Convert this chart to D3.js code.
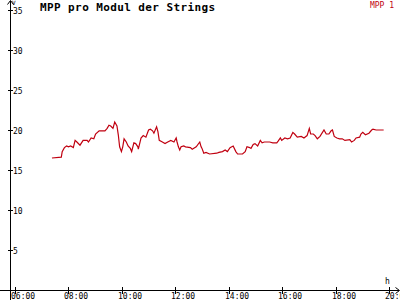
<!DOCTYPE html>
<html>
<head>
<meta charset="utf-8">
<script src="https://cdn.jsdelivr.net/npm/d3@7"></script>
<style>
  body { margin: 0; background: #fff; }
  svg { display: block; font-family: "DejaVu Sans Mono", monospace; }
</style>
</head>
<body>
<div id="chart"></div>
<script>
var times = ["07:23","07:44","07:46","07:51","07:56","08:00","08:05","08:11","08:15","08:19",
  "08:26","08:33","08:42","08:45","08:51","08:57","09:01","09:09","09:22","09:27",
  "09:31","09:35","09:40","09:44","09:49","09:52","09:55","09:59","10:02","10:05",
  "10:10","10:14","10:19","10:22","10:27","10:31","10:36","10:37","10:43","10:48",
  "10:54","11:00","11:04","11:09","11:12","11:18","11:21","11:24","11:31","11:37",
  "11:43","11:50","11:57","12:02","12:04","12:07","12:10","12:13","12:19","12:23",
  "12:34","12:38","12:47","12:55","12:58","13:00","13:04","13:09","13:17","13:33",
  "13:38","13:46","13:52","13:57","14:03","14:10","14:16","14:20","14:31","14:37",
  "14:41","14:47","14:50","14:55","14:59","15:05","15:11","15:15","15:20","15:32",
  "15:39","15:48","15:51","15:56","15:59","16:06","16:12","16:18","16:24","16:28",
  "16:34","16:43","16:49","16:56","17:01","17:04","17:10","17:14","17:19","17:25",
  "17:34","17:39","17:45","17:50","17:53","17:57","18:03","18:09","18:15","18:21",
  "18:32","18:36","18:42","18:46","18:54","18:57","19:01","19:07","19:15","19:21",
  "19:24","19:31","19:48"];
var values = [16.5,16.6,17.3,17.8,18.0,17.9,18.0,17.8,18.7,18.5,
  18.1,18.7,18.7,18.5,19.0,18.9,19.5,19.9,19.9,20.2,
  20.6,20.5,20.2,21.0,20.5,19.4,17.9,17.3,17.9,18.9,
  18.5,18.0,17.7,17.3,18.4,18.3,17.9,17.6,19.0,19.3,
  19.1,20.0,20.1,19.9,19.6,20.4,19.8,18.7,18.5,18.3,
  18.5,18.7,18.5,19.0,18.5,17.9,17.5,17.9,18.0,17.9,
  17.8,17.6,17.9,18.5,17.9,17.7,17.1,17.2,17.0,17.1,
  17.2,17.3,17.5,17.3,17.8,18.0,17.3,17.0,17.0,17.3,
  17.9,17.8,17.7,18.2,18.3,18.0,18.7,18.4,18.5,18.5,
  18.4,18.4,18.6,19.0,18.7,19.0,18.9,19.0,19.7,19.5,
  19.1,19.2,19.0,19.3,20.2,19.5,19.5,19.3,18.9,19.2,
  20.0,19.5,19.5,19.9,20.0,19.2,19.0,18.9,18.9,18.7,
  18.8,18.5,18.7,19.0,19.1,19.5,19.7,19.4,19.6,20.0,
  20.1,20.0,20.0];
var xTicks = [6, 8, 10, 12, 14, 16, 18, 20];
var yTicks = [5, 10, 15, 20, 25, 30, 35];
var title = "MPP pro Modul der Strings";
var seriesName = "MPP 1";

var width = 400, height = 300;
var red = "#c00010";

function toHours(s) {
	var p = s.split(":");
	return +p[0] + (+p[1]) / 60;
}

var data = times.map(function(t, i) { return { h: toHours(t), v: values[i] }; });

var x = d3.scaleLinear().domain([6, 20]).range([15, 389]);
var y = d3.scaleLinear().domain([0, 35]).range([290, 10]);

var svg = d3.select("#chart").append("svg")
	.attr("width", width)
	.attr("height", height);

svg.append("rect").attr("width", width).attr("height", height).attr("fill", "#fff");

// axes lines
var axisG = svg.append("g").attr("stroke", "#000").attr("fill", "none").attr("shape-rendering", "crispEdges");
axisG.append("line").attr("x1", 10.5).attr("x2", 10.5).attr("y1", 1).attr("y2", 300);
axisG.append("line").attr("x1", 0).attr("x2", 399).attr("y1", 290.5).attr("y2", 290.5);
// arrow heads
svg.append("path").attr("d", "M7.5,4.5 L10.5,0.5 L13.5,4.5").attr("stroke", "#000").attr("fill", "none");
svg.append("path").attr("d", "M395.5,287.5 L399.5,290.5 L395.5,293.5").attr("stroke", "#000").attr("fill", "none");

// y ticks
var yt = svg.append("g").selectAll("g").data(yTicks).join("g")
	.attr("transform", function(d) { return "translate(0," + Math.round(y(d)) + ")"; });
yt.append("line").attr("x1", 8).attr("x2", 13).attr("y1", 0.5).attr("y2", 0.5)
	.attr("stroke", "#000").attr("shape-rendering", "crispEdges");
yt.append("text").attr("x", 13).attr("y", 4).attr("font-size", 8).attr("fill", "#000")
	.text(function(d) { return d; });

// x ticks
var xt = svg.append("g").selectAll("g").data(xTicks).join("g")
	.attr("transform", function(d) { return "translate(" + Math.round(x(d)) + ",0)"; });
xt.append("line").attr("x1", 0.5).attr("x2", 0.5).attr("y1", 287).attr("y2", 294)
	.attr("stroke", "#000").attr("shape-rendering", "crispEdges");
xt.append("text").attr("x", -4).attr("y", 299).attr("font-size", 8).attr("fill", "#000")
	.text(function(d) { return (d < 10 ? "0" : "") + d + ":00"; });

// unit labels
svg.append("text").attr("x", 12).attr("y", 5).attr("font-size", 6).text("V");
svg.append("text").attr("x", 385).attr("y", 284).attr("font-size", 8).text("h");

// title and legend
svg.append("text").attr("x", 40).attr("y", 11)
	.attr("font-size", 11).attr("font-weight", "bold").attr("letter-spacing", 0.4)
	.text(title);
svg.append("text").attr("x", 394).attr("y", 8).attr("text-anchor", "end")
	.attr("font-size", 8).attr("fill", red)
	.text(seriesName);

// data line
var line = d3.line()
	.x(function(d) { return x(d.h); })
	.y(function(d) { return y(d.v); });

svg.append("path")
	.datum(data)
	.attr("d", line)
	.attr("fill", "none")
	.attr("stroke", red)
	.attr("stroke-width", 1.2);
</script>
</body>
</html>
